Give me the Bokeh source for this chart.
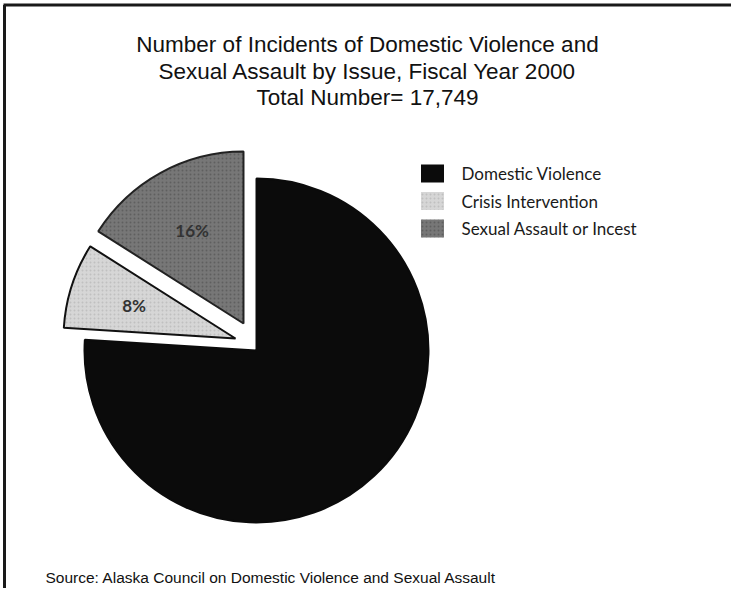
import math
from bokeh.plotting import figure
from bokeh.models import Range1d
from bokeh.core.properties import value
from bokeh.embed import file_html
from bokeh.resources import INLINE

# ---- data ----
categories = ["Domestic Violence", "Crisis Intervention", "Sexual Assault or Incest"]
percents = [76, 8, 16]
title_lines = [
    "Number of Incidents of Domestic Violence and",
    "Sexual Assault by Issue, Fiscal Year 2000",
    "Total Number= 17,749",
]
source_text = "Source: Alaska Council on Domestic Violence and Sexual Assault"

# ---- styles ----
fills = ["#0b0b0b", "#d6d6d6", "#777777"]
hatch = [None, "dot", "dot"]
hatch_colors = ["#0b0b0b", "#b0b0b0", "#4f4f4f"]
line_colors = ["#0b0b0b", "#111111", "#222222"]
explode = [(0, 0), (-21, 12), (-13, 27)]   # pixel offsets (x, y-up)
show_label = [False, True, True]

W, H = 731, 588
p = figure(width=W, height=H, output_backend="svg", toolbar_location=None,
           x_range=Range1d(0, W), y_range=Range1d(-H, 0),
           min_border=0, outline_line_color=None)
p.axis.visible = False
p.grid.visible = False
p.background_fill_color = "white"

# frame lines (left and top)
p.line([4, 4], [-4.5, -H], line_color="#1a1a1a", line_width=3)
p.line([3, W], [-4.5, -4.5], line_color="#1a1a1a", line_width=3)

# pie: sexual assault from 12 o'clock anticlockwise, then crisis, then domestic
cx, cy, r = 256, -350, 172
order = [2, 1, 0]
angles = {}
a = 90.0
for i in order:
    span = percents[i] / sum(percents) * 360.0
    angles[i] = (a, a + span)
    a += span

for i in range(len(categories)):
    s, e = angles[i]
    ox, oy = explode[i]
    p.wedge(x=cx + ox, y=cy + oy, radius=r,
            start_angle=math.radians(s), end_angle=math.radians(e),
            fill_color=fills[i], line_color=line_colors[i], line_width=2,
            hatch_pattern=hatch[i], hatch_color=hatch_colors[i],
            hatch_scale=4, hatch_alpha=0.6, hatch_weight=1)
    if show_label[i]:
        mid = math.radians((s + e) / 2)
        lx = cx + ox + 0.62 * r * math.cos(mid)
        ly = cy + oy + 0.62 * r * math.sin(mid)
        p.text(x=[lx], y=[ly], text=[f"{percents[i]}%"],
               text_font=value("Lato"), text_font_style="bold",
               text_font_size="17px", text_color="#333333",
               text_align="center", text_baseline="middle")

# legend
leg_x, leg_y0, leg_dy = 432, -173, -27.5
for i, cat in enumerate(categories):
    y = leg_y0 + i * leg_dy
    p.rect(x=[leg_x], y=[y], width=23, height=18, fill_color=fills[i],
           line_color=None, hatch_pattern=hatch[i], hatch_color=hatch_colors[i],
           hatch_scale=4, hatch_alpha=0.6)
    p.text(x=[461], y=[y], text=[cat], text_font=value("Lato"),
           text_font_size="17px", text_color="#1a1a1a",
           text_align="left", text_baseline="middle")

# title
for j, line in enumerate(title_lines):
    p.text(x=[367], y=[-44 - 26.5 * j], text=[line],
           text_font=value("Liberation Sans"), text_font_size="22.5px",
           text_color="#111111", text_align="center", text_baseline="middle")

# source
p.text(x=[45], y=[-577], text=[source_text], text_font=value("Liberation Sans"),
       text_font_size="15.5px", text_color="#111111",
       text_align="left", text_baseline="middle")

open("out.html", "w").write(file_html(p, INLINE))
